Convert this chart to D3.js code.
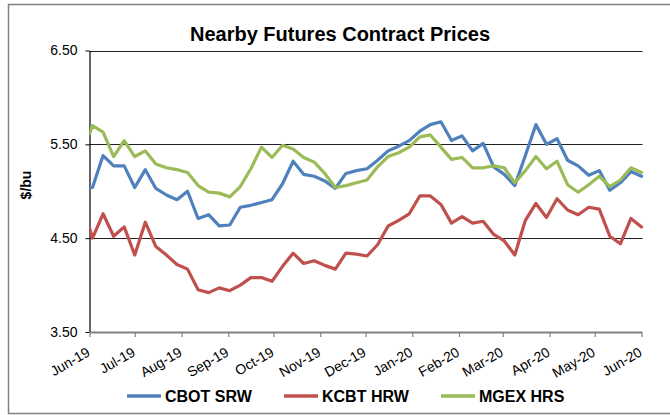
<!DOCTYPE html>
<html>
<head>
<meta charset="utf-8">
<script src="https://cdn.jsdelivr.net/npm/d3@7"></script>
<style>
html,body{margin:0;padding:0;background:#fff;}
svg{display:block;font-family:"Liberation Sans",Arial,sans-serif;}
</style>
</head>
<body>
<svg id="chart" width="670" height="415"></svg>
<script>
const chartTitle = "Nearby Futures Contract Prices";
const yAxisTitle = "$/bu";
const dates = ["2019-06-01","2019-06-03","2019-06-10","2019-06-17","2019-06-24",
  "2019-07-01","2019-07-08","2019-07-15","2019-07-22","2019-07-29",
  "2019-08-05","2019-08-12","2019-08-19","2019-08-26",
  "2019-09-02","2019-09-09","2019-09-16","2019-09-23","2019-09-30",
  "2019-10-07","2019-10-14","2019-10-21","2019-10-28",
  "2019-11-04","2019-11-11","2019-11-18","2019-11-25",
  "2019-12-02","2019-12-09","2019-12-16","2019-12-23","2019-12-30",
  "2020-01-06","2020-01-13","2020-01-20","2020-01-27",
  "2020-02-03","2020-02-10","2020-02-17","2020-02-24",
  "2020-03-02","2020-03-09","2020-03-16","2020-03-23","2020-03-30",
  "2020-04-06","2020-04-13","2020-04-20","2020-04-27",
  "2020-05-04","2020-05-11","2020-05-18","2020-05-25","2020-06-01"];
const cbotSRW = [5.04,5.04,5.38,5.27,5.27,5.04,5.23,5.03,4.96,4.91,5.00,4.71,4.75,4.63,4.64,
  4.83,4.85,4.88,4.91,5.08,5.32,5.18,5.16,5.11,5.03,5.19,5.22,5.24,5.33,5.43,5.48,5.54,
  5.64,5.71,5.74,5.54,5.59,5.43,5.51,5.26,5.18,5.06,5.38,5.71,5.50,5.56,5.33,5.27,5.17,
  5.22,5.01,5.09,5.21,5.16];
const kcbtHRW = [4.61,4.50,4.76,4.52,4.62,4.32,4.67,4.41,4.32,4.22,4.17,3.95,3.92,3.97,3.94,
  4.00,4.08,4.08,4.04,4.20,4.34,4.23,4.26,4.21,4.17,4.34,4.33,4.31,4.43,4.63,4.69,4.76,
  4.95,4.95,4.86,4.66,4.73,4.66,4.68,4.54,4.47,4.32,4.69,4.87,4.72,4.92,4.80,4.75,4.83,
  4.81,4.52,4.44,4.71,4.62];
const mgexHRS = [5.61,5.70,5.63,5.37,5.54,5.37,5.43,5.29,5.25,5.23,5.20,5.06,4.99,4.98,4.94,
  5.05,5.24,5.47,5.36,5.49,5.45,5.36,5.31,5.19,5.04,5.06,5.09,5.12,5.26,5.37,5.41,5.47,
  5.58,5.60,5.47,5.34,5.36,5.25,5.25,5.27,5.25,5.09,5.22,5.37,5.24,5.32,5.07,4.99,5.07,
  5.16,5.05,5.12,5.25,5.20];
const seriesNames = ["CBOT SRW","KCBT HRW","MGEX HRS"];
const seriesColors = ["#4F81BD","#C0504D","#9BBB59"];
const monthTicks = ["2019-06-01","2019-07-01","2019-08-01","2019-09-01","2019-10-01","2019-11-01",
  "2019-12-01","2020-01-01","2020-02-01","2020-03-01","2020-04-01","2020-05-01","2020-06-01"];
const yTicks = [3.5,4.5,5.5,6.5];

const parse = d3.timeParse("%Y-%m-%d");
const svg = d3.select("#chart");
const L = 89.5, R = 641.5, T = 50.5, B = 332;

// outer frame
svg.append("rect").attr("x",8.5).attr("y",4.5).attr("width",700).attr("height",409)
  .attr("fill","none").attr("stroke","#808080").attr("stroke-width",1.5);

const x = d3.scaleTime().domain([parse("2019-06-01"), parse("2020-06-01")]).range([L, R]);
const y = d3.scaleLinear().domain([3.5, 6.5]).range([B, T]);

// gridlines
svg.append("g").selectAll("line").data(yTicks.filter(v => v > 3.5)).join("line")
  .attr("x1", L).attr("x2", R + 1)
  .attr("y1", d => Math.round(y(d)) + 0.5).attr("y2", d => Math.round(y(d)) + 0.5)
  .attr("stroke", "#222").attr("stroke-width", 1.2);

// y axis
const yAxis = svg.append("g").attr("transform", `translate(${L},0)`)
  .call(d3.axisLeft(y).tickValues(yTicks).tickFormat(d3.format(".2f")).tickSize(4).tickSizeOuter(0).tickPadding(8));
yAxis.select(".domain").attr("stroke","#000").attr("stroke-width",1.2);
yAxis.selectAll(".tick line").attr("stroke","#000");
yAxis.selectAll(".tick text").attr("font-size","14px").attr("fill","#000")
  .attr("font-family",'"Liberation Sans",Arial,sans-serif');

// x axis
const xAxis = svg.append("g").attr("transform", `translate(0,${B})`)
  .call(d3.axisBottom(x).tickValues(monthTicks.map(parse)).tickFormat(d3.timeFormat("%b-%y")).tickSize(5).tickSizeOuter(0));
xAxis.select(".domain").attr("stroke","#808080").attr("stroke-width",1.8);
xAxis.selectAll(".tick line").attr("stroke","#808080").attr("stroke-width",1.2);
xAxis.selectAll(".tick text").attr("font-size","14px").attr("fill","#000")
  .attr("font-family",'"Liberation Sans",Arial,sans-serif')
  .attr("text-anchor","end").attr("dy",null)
  .attr("transform","translate(1,23) rotate(-30)").attr("y",0).attr("x",0);

// y title
svg.append("text").attr("transform","translate(31,185) rotate(-90)")
  .attr("text-anchor","middle").attr("font-size","14px").attr("font-weight","bold").text(yAxisTitle);

// title
svg.append("text").attr("x",340).attr("y",41).attr("text-anchor","middle")
  .attr("font-size","20px").attr("font-weight","bold").text(chartTitle);

// lines
svg.append("clipPath").attr("id","clip").append("rect")
  .attr("x",L).attr("y",0).attr("width",R-L+2).attr("height",415);
const allSeries = [cbotSRW, kcbtHRW, mgexHRS];
const line = d3.line().x((d,i) => x(parse(dates[i]))).y(d => y(d));
const g = svg.append("g").attr("clip-path","url(#clip)");
allSeries.forEach((s, k) => {
  g.append("path").datum(s).attr("d", line).attr("fill","none")
    .attr("stroke", seriesColors[k]).attr("stroke-width", 3.2)
    .attr("stroke-linejoin","round").attr("stroke-linecap","round");
});

// legend
const legendX = [127, 284, 441];
const lg = svg.append("g");
seriesNames.forEach((n, k) => {
  lg.append("line").attr("x1", legendX[k]).attr("x2", legendX[k] + 34)
    .attr("y1", 396).attr("y2", 396).attr("stroke", seriesColors[k]).attr("stroke-width", 3.5);
  lg.append("text").attr("x", legendX[k] + 38).attr("y", 402)
    .attr("font-size","16px").attr("font-weight","bold").text(n);
});
</script>
</body>
</html>
